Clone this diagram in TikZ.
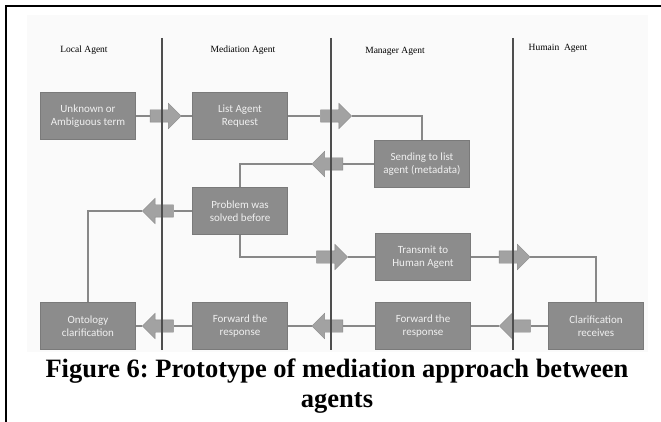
\documentclass[tikz,border=0pt]{standalone}
\usepackage{fontspec}
\setmainfont{Liberation Serif}
\newfontfamily\boxfont{Carlito}
\usepackage{tikz}
\usetikzlibrary{arrows.meta,positioning,calc,shapes.arrows}
\definecolor{BoxFill}{HTML}{8C8C8C}
\definecolor{BoxEdge}{HTML}{7A7A7A}
\definecolor{ArrowFill}{HTML}{A2A2A2}
\definecolor{ArrowEdge}{HTML}{8A8A8A}
\definecolor{LinkGray}{HTML}{888888}
\definecolor{LaneGray}{HTML}{4E4E4E}
\definecolor{PanelBack}{HTML}{FAFAFA}
\definecolor{BoxText}{HTML}{F0F0F0}
\frenchspacing

\begin{document}
\begin{tikzpicture}[x=1pt, y=-1pt,
    task/.style={draw=BoxEdge, fill=BoxFill, minimum width=95pt, minimum height=47pt,
      align=center, text=BoxText, inner sep=1pt, font=\boxfont\fontsize{11}{13}\selectfont},
    blk/.style={single arrow, draw=ArrowEdge, fill=ArrowFill, minimum height=31pt,
      minimum width=25pt, single arrow head extend=6.5pt, inner sep=6pt, anchor=center},
    back/.style={blk, shape border rotate=180},
    link/.style={draw=LinkGray, line width=1.2pt},
    lane/.style={draw=LaneGray, line width=1.4pt},
    head/.style={font=\fontsize{9.5}{11}\selectfont}
  ]
    \useasboundingbox (0,0) rectangle (661,422);
    \fill[PanelBack] (27,15) rectangle (648,352);
    \draw[line width=2pt] (6,422) -- (6,6) -- (661,6);

    % lanes
    \node[head] (hlocal) at (84,50) {Local Agent};
    \node[head] (hmed) at (243,50) {Mediation Agent};
    \node[head] (hman) at (395,51) {Manager Agent};
    \node[head] (hhum) at (558,48) {Humain~~Agent};

    % steps
    \node[task] (unk) at (88,116) {Unknown or\\Ambiguous term};
    \node[task] (lar) at (240,116) {List Agent\\Request};
    \node[task] (send) at (422,164) {Sending to list\\agent (metadata)};
    \node[task] (prob) at (240,211) {Problem was\\solved before};
    \node[task] (trans) at (423,257) {Transmit to\\Human Agent};
    \node[task] (onto) at (88,326) {Ontology\\clarification};
    \node[task] (fwdmed) at (240,326) {Forward the\\response};
    \node[task] (fwdman) at (423,326) {Forward the\\response};
    \node[task] (clar) at (596,326) {Clarification\\receives};

    % block arrows
    \node[blk] (a1) at (162.5,116) {};
    \node[blk] (a2) at (333,116) {};
    \node[back] (a3) at (330.5,164) {};
    \node[back] (a4) at (161,211) {};
    \node[blk] (a5) at (329,257) {};
    \node[blk] (a6) at (511.5,257) {};
    \node[back] (a7) at (518,326) {};
    \node[back] (a8) at (330.5,326) {};
    \node[back] (a9) at (161,326) {};

    \draw[link] (unk) -- (a1.tail);
    \draw[link] (a1.tip) -- (lar);
    \draw[link] (lar) -- (a2.tail);
    \draw[link] (a2.tip) -| (send);
    \draw[link] (send) -- (a3.tail);
    \draw[link] (a3.tip) -| (prob);
    \draw[link] (prob) -- (a4.tail);
    \draw[link] (a4.tip) -| (onto);
    \draw[link] (prob) |- (a5.tail);
    \draw[link] (a5.tip) -- (trans);
    \draw[link] (trans) -- (a6.tail);
    \draw[link] (a6.tip) -| (clar);
    \draw[link] (clar) -- (a7.tail);
    \draw[link] (a7.tip) -- (fwdman);
    \draw[link] (fwdman) -- (a8.tail);
    \draw[link] (a8.tip) -- (fwdmed);
    \draw[link] (fwdmed) -- (a9.tail);
    \draw[link] (a9.tip) -- (onto);

    \draw[lane] (162,38) -- (162,350);
    \draw[lane] (331,38) -- (331,350);
    \draw[lane] (513,38) -- (513,350);

    \node[font=\bfseries\fontsize{26.5}{30}\selectfont, align=center, anchor=base] (cap) at (337,407)
      {Figure 6: Prototype of mediation approach between\\agents};
  \end{tikzpicture}
\end{document}
